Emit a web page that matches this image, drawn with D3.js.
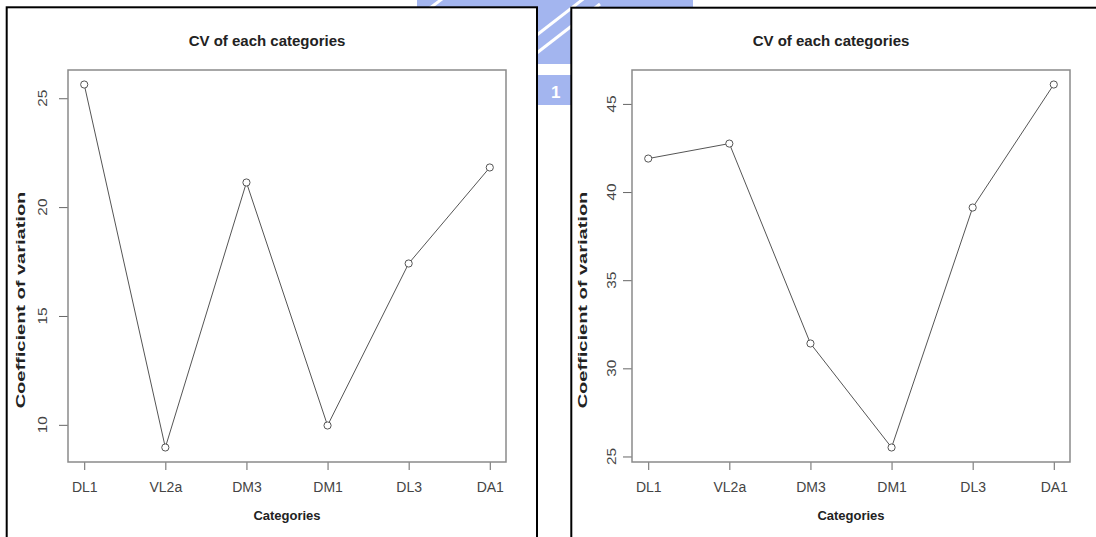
<!DOCTYPE html>
<html lang="en">
<head>
    <meta charset="UTF-8">
    <title>CV of each categories</title>
    <script src="https://d3js.org/d3.v7.min.js"></script>
    <style>
        body {
            margin: 0;
            padding: 0;
            background: #ffffff;
            font-family: Arial, 'Liberation Sans', sans-serif;
        }
        svg text { fill: #222; }
        .tick-label { fill: #444; font-size: 14px; }
        .ytick-label { fill: #444; font-size: 12px; }
        .title { font-size: 15px; font-weight: bold; }
        .axis-title { font-size: 13px; font-weight: bold; }
    </style>
</head>
<body>
    <div id="chart"></div>
    <script>
        // data
        const categories = ["DL1", "VL2a", "DM3", "DM1", "DL3", "DA1"];
        const leftValues = [25.63, 8.96, 21.13, 9.97, 17.41, 21.82];
        const rightValues = [41.90, 42.75, 31.41, 25.51, 39.12, 46.10];
        const leftTicks = [10, 15, 20, 25];
        const rightTicks = [25, 30, 35, 40, 45];

        const W = 1096, H = 537;

        const svg = d3.select("#chart").append("svg")
            .attr("width", W)
            .attr("height", H);

        // faint background logo peeking out between the panels
        const logo = svg.append("g");
        logo.append("rect").attr("x", 417).attr("y", 0).attr("width", 276).attr("height", 64).attr("fill", "#a3b5ef");
        logo.append("rect").attr("x", 530).attr("y", 75).attr("width", 60).attr("height", 30).attr("fill", "#a3b5ef");
        [[520, 66, 600, 4], [520, 48, 600, -14], [430, 8, 470, -22]].forEach(s => {
            logo.append("line")
                .attr("x1", s[0]).attr("y1", s[1]).attr("x2", s[2]).attr("y2", s[3])
                .attr("stroke", "#ffffff").attr("stroke-width", 3);
        });
        logo.append("text").attr("x", 551).attr("y", 98)
            .style("fill", "#ffffff").style("font-size", "17px").style("font-weight", "bold").text("1");

        const panels = [
            { frame: [6.7, 7.3, 530.3], box: [68, 506], values: leftValues, ticks: leftTicks, ytickX: 47, ylabX: 25 },
            { frame: [571.3, 7.7, 600], box: [632, 1070], values: rightValues, ticks: rightTicks, ytickX: 616, ylabX: 587 }
        ];
        const plotTop = 70, plotBottom = 462;

        panels.forEach(p => {
            // black frame round each panel
            svg.append("rect")
                .attr("x", p.frame[0]).attr("y", p.frame[1])
                .attr("width", p.frame[2]).attr("height", 700)
                .attr("fill", "#ffffff")
                .attr("stroke", "#000").attr("stroke-width", 2);

            const [x0, x1] = p.box;
            const x = d3.scaleLinear().domain([0.8, 6.2]).range([x0, x1]);
            const lo = d3.min(p.values), hi = d3.max(p.values);
            const pad = (hi - lo) * 0.04;
            const y = d3.scaleLinear().domain([lo - pad, hi + pad]).range([plotBottom, plotTop]);

            const g = svg.append("g");

            // x axis
            const xAxis = g.append("g")
                .attr("transform", `translate(0,${plotBottom})`)
                .call(d3.axisBottom(x).tickValues(d3.range(1, 7)).tickSize(8).tickFormat(i => categories[i - 1]));
            xAxis.select(".domain").remove();
            xAxis.selectAll(".tick line").attr("stroke", "#666");
            xAxis.selectAll(".tick text")
                .attr("class", "tick-label")
                .attr("dy", null).attr("y", 30)
                .attr("font-family", null).attr("font-size", null)
                .style("fill", "#444");

            // y axis, labels turned and stretched like the original device
            const yAxis = g.append("g")
                .attr("transform", `translate(${x0},0)`)
                .call(d3.axisLeft(y).tickValues(p.ticks).tickSize(9).tickFormat(d3.format("d")));
            yAxis.select(".domain").remove();
            yAxis.selectAll(".tick line").attr("stroke", "#666");
            yAxis.selectAll(".tick text").remove();
            p.ticks.forEach(t => {
                g.append("text")
                    .attr("class", "ytick-label")
                    .attr("transform", `translate(${p.ytickX},${y(t)}) rotate(-90) scale(1.28,1)`)
                    .attr("text-anchor", "middle")
                    .style("fill", "#444")
                    .text(t);
            });

            // plot box
            g.append("rect")
                .attr("x", x0).attr("y", plotTop)
                .attr("width", x1 - x0).attr("height", plotBottom - plotTop)
                .attr("fill", "none")
                .attr("stroke", "#8a8a8a").attr("stroke-width", 1.5);

            // series
            const pts = p.values.map((v, i) => [i + 1, v]);
            g.append("path")
                .datum(pts)
                .attr("fill", "none")
                .attr("stroke", "#555")
                .attr("stroke-width", 1)
                .attr("d", d3.line().x(d => x(d[0])).y(d => y(d[1])));
            g.selectAll("circle")
                .data(pts)
                .join("circle")
                .attr("cx", d => x(d[0]))
                .attr("cy", d => y(d[1]))
                .attr("r", 3.6)
                .attr("fill", "#fff")
                .attr("stroke", "#555")
                .attr("stroke-width", 1);

            // titles
            const cx = (x0 + x1) / 2;
            g.append("text")
                .attr("class", "title")
                .attr("x", cx - 20).attr("y", 46)
                .attr("text-anchor", "middle")
                .text("CV of each categories");
            g.append("text")
                .attr("class", "axis-title")
                .attr("x", cx).attr("y", 520)
                .attr("text-anchor", "middle")
                .text("Categories");
            g.append("text")
                .attr("class", "axis-title")
                .attr("transform", `translate(${p.ylabX},300) rotate(-90) scale(1.54,1)`)
                .attr("text-anchor", "middle")
                .text("Coefficient of variation");
        });
    </script>
</body>
</html>
